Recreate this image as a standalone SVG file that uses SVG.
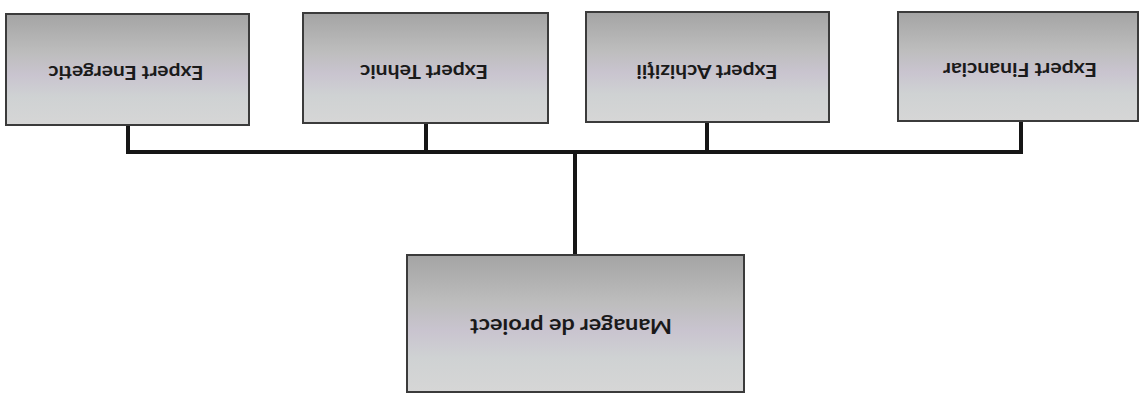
<svg xmlns="http://www.w3.org/2000/svg" width="1139" height="394" viewBox="0 0 1139 394">
<defs>
<linearGradient id="g" x1="0" y1="0" x2="0" y2="1">
<stop offset="0" stop-color="#a4a4a4"/>
<stop offset="0.35" stop-color="#bdbdbd"/>
<stop offset="0.55" stop-color="#c9c4cf"/>
<stop offset="0.75" stop-color="#cfd2d3"/>
<stop offset="1" stop-color="#d6d6d6"/>
</linearGradient>
<filter id="soft" x="-5%" y="-10%" width="110%" height="120%">
<feGaussianBlur stdDeviation="0.6"/>
</filter>
</defs>
<style>
.box{fill:url(#g);stroke:#3a3a3a;stroke-width:2}
.lbl{font-family:Lato,"Liberation Sans",sans-serif;font-weight:bold;fill:#1a1a1a;text-anchor:middle}
.con{fill:none;stroke:#161616;stroke-width:4;stroke-linejoin:miter}
</style>
<rect width="1139" height="394" fill="#ffffff"/>
<g id="connectors">
<path class="con" d="M128,125 V152 H1021 V121"/>
<path class="con" d="M426,123 V151"/>
<path class="con" d="M707,122 V151"/>
<path class="con" d="M575,151 V255"/>
</g>
<g id="expert-energetic">
<rect class="box" x="6" y="14" width="243" height="111" filter="url(#soft)"/>
<text class="lbl" x="126" y="66" font-size="18" textLength="155" lengthAdjust="spacingAndGlyphs" transform="rotate(180 126 66)">Expert Energetic</text>
</g>
<g id="expert-tehnic">
<rect class="box" x="303" y="13" width="245" height="110" filter="url(#soft)"/>
<text class="lbl" x="424" y="65" font-size="18" textLength="128" lengthAdjust="spacingAndGlyphs" transform="rotate(180 424 65)">Expert Tehnic</text>
</g>
<g id="expert-achizitii">
<rect class="box" x="586" y="12" width="243" height="110" filter="url(#soft)"/>
<text class="lbl" x="707" y="65" font-size="18" textLength="141" lengthAdjust="spacingAndGlyphs" transform="rotate(180 707 65)">Expert Achiziţii</text>
</g>
<g id="expert-financiar">
<rect class="box" x="898" y="12" width="240" height="109" filter="url(#soft)"/>
<text class="lbl" x="1020" y="63" font-size="18" textLength="154" lengthAdjust="spacingAndGlyphs" transform="rotate(180 1020 63)">Expert Financiar</text>
</g>
<g id="manager-de-proiect">
<rect class="box" x="407" y="255" width="337" height="137" filter="url(#soft)"/>
<text class="lbl" x="571" y="319" font-size="21" textLength="202" lengthAdjust="spacingAndGlyphs" transform="rotate(180 571 319)">Manager de proiect</text>
</g>
</svg>
